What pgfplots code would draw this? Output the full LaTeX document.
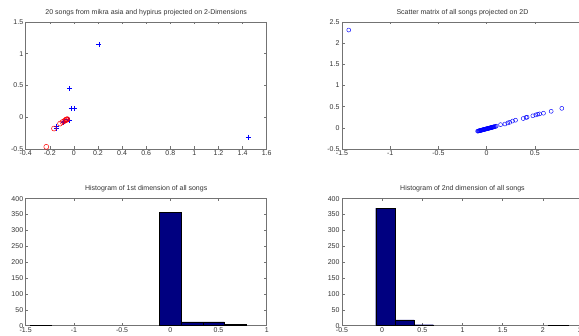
\documentclass[border=0pt]{standalone}
\usepackage{pgfplots}
\pgfplotsset{compat=1.18}
\usepackage{fontspec}
\setmainfont{Liberation Sans}
\definecolor{navy}{rgb}{0,0,0.5}
\definecolor{mblue}{rgb}{0,0,1}
\definecolor{mred}{rgb}{1,0,0}
\pgfplotsset{
  mat/.style={
    scale only axis, width=241pt, height=127pt,
    anchor=south west,
    axis line style={black!55, line width=0.6pt},
    tick style={black!55, line width=0.5pt},
    major tick length=2.5pt,
    tick align=inside, tick pos=both,
    every tick label/.append style={font=\fontsize{7}{8}\selectfont, text=black!80},
    /pgf/number format/assume math mode=true,
    xticklabel style={yshift=1.5pt},
    yticklabel style={xshift=1pt},
    title style={font=\fontsize{7}{8}\selectfont, text=black!80, yshift=-3pt},
    scaled ticks=false,
    clip=false,
  }
}
\begin{document}
\begin{tikzpicture}
\useasboundingbox (0,0) rectangle (579pt,336pt);
\clip (0,0) rectangle (579pt,336pt);

% top left
\begin{axis}[mat, at={(25.7pt,187pt)},
  xmin=-0.4, xmax=1.6, ymin=-0.5, ymax=1.5,
  xtick={-0.4,-0.2,0,0.2,0.4,0.6,0.8,1,1.2,1.4,1.6},
  ytick={-0.5,0,0.5,1,1.5},
  title={20 songs from mikra asia and hypirus projected on 2-Dimensions}]
\addplot[only marks, mark=+, mark size=2.5pt, color=mblue, line width=0.5pt] coordinates {
(0.207,1.147) (-0.036,0.45) (-0.022,0.136) (0.006,0.136) (1.448,-0.314)
(-0.145,-0.14) (-0.143,-0.18) (-0.08,-0.06) (-0.05,-0.035) (-0.04,-0.045) (-0.085,-0.075)
};
\addplot[only marks, mark=o, mark size=2.5pt, color=mred, line width=0.5pt] coordinates {
(-0.229,-0.466) (-0.165,-0.178) (-0.115,-0.1) (-0.095,-0.075) (-0.07,-0.05)
(-0.063,-0.035) (-0.055,-0.03) (-0.08,-0.06) (-0.06,-0.04)
};
\end{axis}

% top right
\begin{axis}[mat, at={(342pt,187pt)},
  xmin=-1.5, xmax=1, ymin=-0.5, ymax=2.5,
  xtick={-1.5,-1,-0.5,0,0.5,1},
  ytick={-0.5,0,0.5,1,1.5,2,2.5},
  title={Scatter matrix of all songs projected on 2D}]
\addplot[only marks, mark=o, mark size=2pt, color=mblue, line width=0.45pt] coordinates {
(-0.093,-0.080) (-0.085,-0.075) (-0.08,-0.072) (-0.075,-0.069) (-0.07,-0.066)
(-0.065,-0.063) (-0.06,-0.06) (-0.055,-0.057) (-0.05,-0.054) (-0.045,-0.05)
(-0.04,-0.047) (-0.035,-0.044) (-0.03,-0.041) (-0.025,-0.038) (-0.02,-0.035)
(-0.015,-0.032) (-0.01,-0.029) (-0.005,-0.026) (0,-0.023) (0.005,-0.02)
(0.01,-0.017) (0.015,-0.014) (0.02,-0.011) (0.025,-0.008) (0.03,-0.005)
(0.035,-0.002) (0.04,0.001) (0.045,0.004) (0.05,0.007) (0.055,0.01)
(0.06,0.014) (0.065,0.017) (0.07,0.02) (0.075,0.023) (0.08,0.026)
(0.09,0.032) (0.1,0.038)
(0.145,0.075) (0.19,0.09) (0.22,0.115) (0.24,0.13) (0.27,0.16) (0.3,0.18)
(0.38,0.22) (0.41,0.245) (0.42,0.25) (0.48,0.285) (0.51,0.305) (0.53,0.32)
(0.55,0.33) (0.59,0.345) (0.67,0.39) (0.78,0.46) (-1.43,2.31)
};
\end{axis}

% bottom left
\begin{axis}[mat, at={(25.7pt,10.3pt)},
  xmin=-1.5, xmax=1, ymin=0, ymax=400,
  xtick={-1.5,-1,-0.5,0,0.5,1},
  ytick={0,50,100,150,200,250,300,350,400},
  title={Histogram of 1st dimension of all songs}]
\addplot[ybar interval, fill=navy, draw=black, line width=0.4pt] coordinates {
(-1.455,1) (-1.231,1)
};
\addplot[ybar interval, fill=navy, draw=black, line width=0.4pt] coordinates {
(-0.110,358) (0.114,12) (0.338,12) (0.562,5) (0.786,5)
};
\end{axis}

% bottom right
\begin{axis}[mat, at={(342pt,10.3pt)},
  xmin=-0.5, xmax=2.5, ymin=0, ymax=400,
  xtick={-0.5,0,0.5,1,1.5,2,2.5},
  ytick={0,50,100,150,200,250,300,350,400},
  title={Histogram of 2nd dimension of all songs}]
\addplot[ybar interval, fill=navy, draw=black, line width=0.4pt] coordinates {
(-0.08,370) (0.159,18) (0.398,3) (0.637,3)
};
\addplot[ybar interval, fill=navy, draw=black, line width=0.4pt] coordinates {
(2.071,1) (2.31,1)
};
\end{axis}
\end{tikzpicture}
\end{document}
